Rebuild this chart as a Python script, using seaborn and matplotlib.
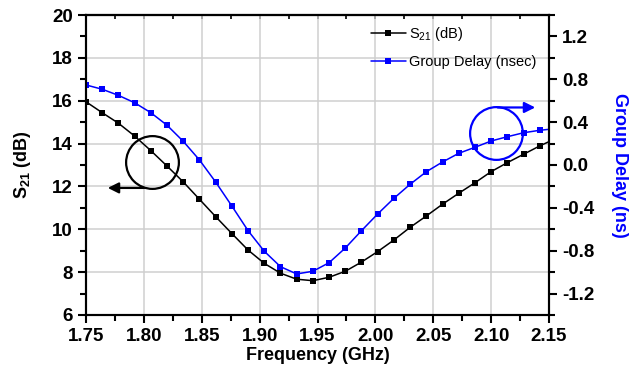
import numpy as np
import pandas as pd
import seaborn as sns
import matplotlib.pyplot as plt
from matplotlib.ticker import MultipleLocator

# frequency points (GHz); last point is the end of the trace, drawn without a marker
freq = [1.750, 1.764, 1.778, 1.792, 1.806, 1.820, 1.834, 1.848, 1.862, 1.876,
        1.890, 1.904, 1.918, 1.932, 1.946, 1.960, 1.974, 1.988, 2.002, 2.016,
        2.030, 2.044, 2.058, 2.072, 2.086, 2.100, 2.114, 2.128, 2.142, 2.150]

s21_db = [15.95, 15.44, 14.95, 14.35, 13.67, 12.95, 12.21, 11.40, 10.59, 9.80,
          9.03, 8.41, 7.95, 7.67, 7.60, 7.76, 8.04, 8.47, 8.96, 9.50,
          10.09, 10.62, 11.17, 11.68, 12.17, 12.69, 13.11, 13.50, 13.89, 14.09]

group_delay = [0.747, 0.707, 0.650, 0.581, 0.488, 0.371, 0.221, 0.047, -0.159, -0.383,
               -0.613, -0.805, -0.949, -1.017, -0.992, -0.912, -0.775, -0.613, -0.457, -0.311,
               -0.180, -0.063, 0.028, 0.109, 0.165, 0.224, 0.264, 0.301, 0.324, 0.333]

x_ticks = [1.75, 1.80, 1.85, 1.90, 1.95, 2.00, 2.05, 2.10, 2.15]
left_ticks = [6, 8, 10, 12, 14, 16, 18, 20]
right_ticks = [-1.2, -0.8, -0.4, 0.0, 0.4, 0.8, 1.2]

df = pd.DataFrame({'freq': freq, 's21': s21_db, 'gd': group_delay})

sns.set_style('ticks')
plt.rcParams['font.family'] = ['Liberation Sans', 'DejaVu Sans']
plt.rcParams['mathtext.default'] = 'regular'
plt.rcParams['axes.linewidth'] = 1.5
plt.rcParams['axes.edgecolor'] = 'black'
plt.rcParams['xtick.color'] = 'black'
plt.rcParams['ytick.color'] = 'black'
plt.rcParams['text.color'] = 'black'
plt.rcParams['axes.labelcolor'] = 'black'

fig = plt.figure(figsize=(6.33, 3.8), dpi=100)
ax = fig.add_axes([0.1359, 0.1711, 0.7314, 0.7894])
ax2 = ax.twinx()

marks = list(range(len(freq) - 1))
sns.lineplot(data=df, x='freq', y='s21', ax=ax, color='black', marker='s',
             markersize=4.5, markeredgewidth=0, markevery=marks, lw=1.1,
             label='S$_{21}$ (dB)', legend=False)
sns.lineplot(data=df, x='freq', y='gd', ax=ax2, color='#0000ff', marker='s',
             markersize=4.5, markeredgewidth=0, markevery=marks, lw=1.1,
             label='Group Delay (nsec)', legend=False)

tick_font = dict(fontsize=13.5, fontweight='bold')
ax.set_xticks(x_ticks)
ax.set_xticklabels(['%.2f' % v for v in x_ticks], **tick_font)
ax.set_yticks(left_ticks)
ax.set_yticklabels(['%d' % v for v in left_ticks], **tick_font)
ax2.set_yticks(right_ticks)
ax2.set_yticklabels(['%.1f' % v for v in right_ticks], **tick_font)
ax.xaxis.set_minor_locator(MultipleLocator(0.025))
ax.yaxis.set_minor_locator(MultipleLocator(1))
ax2.set_yticks([-1.4, -1.0, -0.6, -0.2, 0.2, 0.6, 1.0, 1.4], minor=True)

ax.set_xlim(1.75, 2.15)
ax.set_ylim(6, 20)
ax2.set_ylim(-1.4, 1.4)

ax.grid(True, which='major', color='#cfcfcf', lw=1.1)
ax.set_axisbelow(True)

ax.tick_params(which='major', direction='out', length=6, width=1.5)
ax.tick_params(which='minor', direction='out', length=4, width=1.5)
ax2.tick_params(which='major', direction='out', length=6, width=1.5)
ax2.tick_params(which='minor', direction='out', length=4, width=1.5)

# inward ticks along the top edge
top = ax.secondary_xaxis('top')
top.set_xticks(x_ticks)
top.xaxis.set_minor_locator(MultipleLocator(0.025))
top.tick_params(which='both', direction='in', length=3, width=1.2, labeltop=False)
top.spines['top'].set_linewidth(1.5)

ax.set_xlabel('Frequency (GHz)', fontsize=13, fontweight='bold', labelpad=1)
ax.set_ylabel('S$_{21}$ (dB)', fontsize=13, fontweight='bold', labelpad=14)
ax2.set_ylabel('Group Delay (ns)', fontsize=13, fontweight='bold', color='#0000ff',
               rotation=270, labelpad=24)

# circles and arrows pointing at the matching axis
ax.plot([1.8068], [13.155], marker='o', markersize=38, mfc='none', mec='black', mew=1.6)
ax.annotate('', xy=(1.7664, 11.93), xytext=(1.8027, 11.93),
            arrowprops=dict(arrowstyle='-|>', color='black', lw=1.6, mutation_scale=16))
ax2.plot([2.1045], [0.296], marker='o', markersize=38, mfc='none', mec='#0000ff', mew=1.6)
ax2.annotate('', xy=(2.1405, 0.537), xytext=(2.1033, 0.537),
             arrowprops=dict(arrowstyle='-|>', color='#0000ff', lw=1.6, mutation_scale=16))

h1, l1 = ax.get_legend_handles_labels()
h2, l2 = ax2.get_legend_handles_labels()
ax2.legend(h1 + h2, l1 + l2, loc='upper left', bbox_to_anchor=(0.602, 0.985),
           frameon=False, fontsize=10.5, handlelength=2.4, handletextpad=0.25,
           labelspacing=0.8, borderaxespad=0)

fig.savefig('out.png', dpi=100)
